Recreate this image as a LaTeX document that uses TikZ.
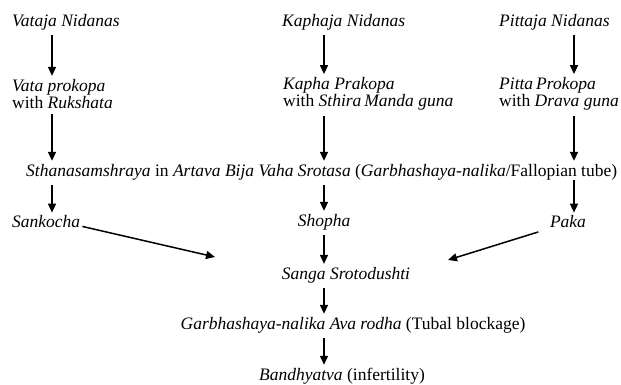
\documentclass[tikz,border=0pt]{standalone}
\usepackage{fontspec}
\setmainfont{Liberation Serif}
\usetikzlibrary{arrows.meta}

\tikzset{
  lbl/.style={inner sep=0pt,font=\fontsize{17.5}{17.5}\selectfont},
  arr/.style={->,line width=1.5pt,shorten <=5pt,shorten >=3pt}
}

\begin{document}
\begin{tikzpicture}[x=1pt,y=-1pt,>={Triangle[width=8pt,length=9pt]}]
				\useasboundingbox (0,0) rectangle (621,385);

				% the three columns of arrows
				\coordinate (colV) at (52,0);
				\coordinate (colK) at (324,0);
				\coordinate (colP) at (574,0);

				% draw the nidanas
				\node[lbl,anchor=west] (vataN)  at (12,22)  {\textit{Vataja Nidanas}};
				\node[lbl,anchor=west] (kaphaN) at (282,22) {\textit{Kaphaja Nidanas}};
				\node[lbl,anchor=west] (pittaN) at (499,22) {\textit{Pittaja Nidanas}};

				% draw the prakopa of each dosha
				\node[lbl,anchor=west,align=left] (vataP)  at (12,94)  {\textit{Vata prokopa}\\with \textit{Rukshata}};
				\node[lbl,anchor=west,align=left] (kaphaP) at (283,94) {\textit{Kapha Prakopa}\\with \textit{Sthira\,Manda guna}};
				\node[lbl,anchor=west,align=left] (pittaP) at (499,94) {\textit{Pitta\,Prokopa}\\with \textit{Drava guna}};

				% the sthanasamshraya line
				\node[lbl,anchor=west] (sthana) at (26,172) {\textit{Sthanasamshraya} in \textit{Artava Bija Vaha Srotasa} (\textit{Garbhashaya-nalika}/Fallopian tube)};

				\node[lbl,anchor=west] (sankocha) at (12,222) {\textit{Sankocha}};
				\node[lbl] (shopha) at (324,222) {\textit{Shopha}};
				\node[lbl] (paka)   at (568,222) {\textit{Paka}};

				\node[lbl] (sanga)    at (346,275) {\textit{Sanga Srotodushti}};
				\node[lbl] (avarodha) at (353,325) {\textit{Garbhashaya-nalika Ava rodha} (Tubal blockage)};
				\node[lbl] (bandhya)  at (342,376) {\textit{Bandhyatva} (infertility)};

				% free ends of the slanted arrows
				\coordinate (sangaL) at (215,257);
				\coordinate (sangaR) at (448,260);

				% draw the vertical arrows
				\foreach \a/\b/\c in {vataN/vataP/colV, kaphaN/kaphaP/colK, pittaN/pittaP/colP,
					vataP/sthana/colV, kaphaP/sthana/colK, pittaP/sthana/colP,
					sthana/sankocha/colV, sthana/shopha/colK,
					shopha/sanga/colK, sanga/avarodha/colK, avarodha/bandhya/colK}
						\draw[arr] (\a.south -| \c) -- (\b.north -| \c);
				\draw[arr,shorten <=0pt] (sthana.south -| colP) -- (paka.north -| colP);

				% draw the slanted arrows
				\draw[arr,shorten <=2pt,shorten >=0pt] ([yshift=-4pt]sankocha.east) -- (sangaL);
				\draw[arr,shorten <=12pt,shorten >=0pt] (paka.south west) -- (sangaR);
\end{tikzpicture}
\end{document}
